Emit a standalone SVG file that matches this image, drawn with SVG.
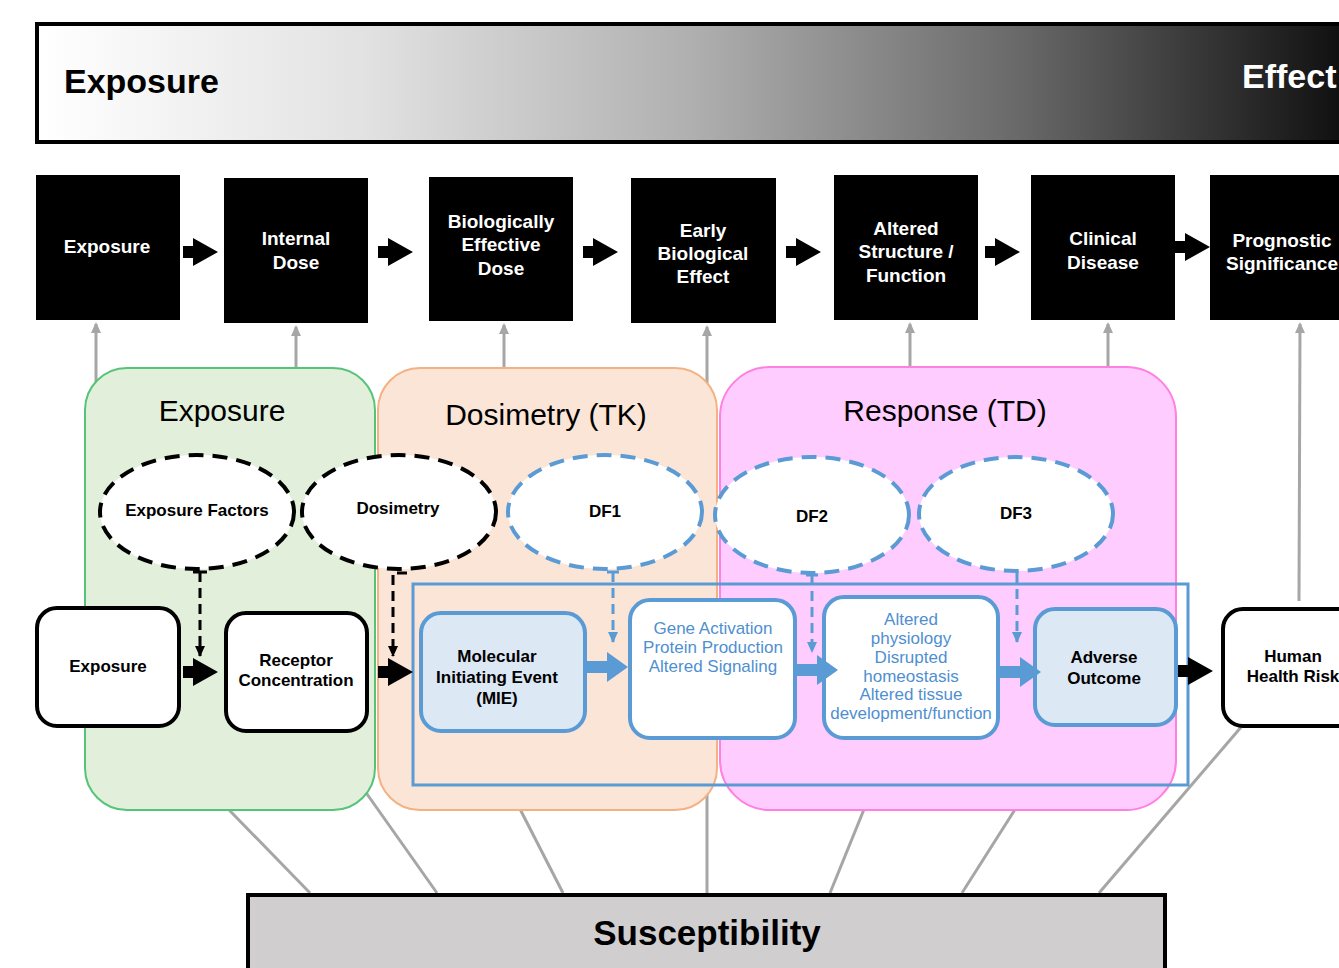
<svg xmlns="http://www.w3.org/2000/svg" width="1339" height="968" viewBox="0 0 1339 968">
<defs>
<linearGradient id="g" gradientUnits="userSpaceOnUse" x1="40" y1="0" x2="1339" y2="0">
<stop offset="0" stop-color="#ffffff"/>
<stop offset="0.25" stop-color="#e2e2e2"/>
<stop offset="0.5" stop-color="#b0b0b0"/>
<stop offset="0.75" stop-color="#6a6a6a"/>
<stop offset="1" stop-color="#111111"/>
</linearGradient>
<path id="ba" d="M0,-6 H10 V-14 L35,0 L10,14 V6 H0 Z"/>
<path id="bb" d="M0,-6 H20 V-15 L41,0 L20,15 V6 H0 Z"/>
<marker id="ak" markerUnits="userSpaceOnUse" markerWidth="12" markerHeight="12" refX="10" refY="6" orient="auto" viewBox="0 0 12 12"><path d="M0,1 L11,6 L0,11 Z" fill="#000"/></marker>
<marker id="abl" markerUnits="userSpaceOnUse" markerWidth="12" markerHeight="12" refX="10" refY="6" orient="auto" viewBox="0 0 12 12"><path d="M0,1 L11,6 L0,11 Z" fill="#5b9bd5"/></marker>
<marker id="ag" markerUnits="userSpaceOnUse" markerWidth="12" markerHeight="12" refX="6" refY="2" viewBox="0 0 12 12"><path d="M1,11 L11,11 L6,0 Z" fill="#a6a6a6"/></marker>
</defs>
<style>
.bx{fill:#000}
.bt{fill:#fff;font-family:"Liberation Sans",Arial,sans-serif;font-weight:bold;font-size:19px;text-anchor:middle}
.nt{fill:#000;font-family:"Liberation Sans",Arial,sans-serif;font-weight:bold;font-size:17px;text-anchor:middle}
.blt{fill:#4f8fd0;font-family:"Liberation Sans",Arial,sans-serif;font-size:17px;text-anchor:middle}
.pt{fill:#000;font-family:"Liberation Sans",Arial,sans-serif;font-size:30px;text-anchor:middle}
.gl{stroke:#a6a6a6;stroke-width:3;fill:none}
.ek{fill:#fff;stroke:#000;stroke-width:4;stroke-dasharray:15 9}
.eb{fill:#fff;stroke:#5b9bd5;stroke-width:4;stroke-dasharray:15 9}
.wn{fill:#fff;stroke:#000;stroke-width:4}
.bn{fill:#fff;stroke:#5b9bd5;stroke-width:4}
.ln{fill:#dde8f5;stroke:#5b9bd5;stroke-width:4}
.dk{stroke:#000;stroke-width:3;stroke-dasharray:10 6;fill:none}
.db{stroke:#5b9bd5;stroke-width:3;stroke-dasharray:10 6;fill:none}
</style>

<g id="banner">
<rect x="37" y="24" width="1340" height="118" fill="url(#g)" stroke="#000" stroke-width="4"/>
<text x="64" y="93" font-family="Liberation Sans,Arial,sans-serif" font-weight="bold" font-size="34" fill="#000">Exposure</text>
<text x="1242" y="88" font-family="Liberation Sans,Arial,sans-serif" font-weight="bold" font-size="34" fill="#fff">Effect</text>
</g>

<g id="connectors-gray">
<line class="gl" x1="96" y1="420" x2="96" y2="324" marker-end="url(#ag)"/>
<line class="gl" x1="296" y1="400" x2="296" y2="327" marker-end="url(#ag)"/>
<line class="gl" x1="504" y1="400" x2="504" y2="325" marker-end="url(#ag)"/>
<line class="gl" x1="707" y1="893" x2="707" y2="327" marker-end="url(#ag)"/>
<line class="gl" x1="910" y1="400" x2="910" y2="324" marker-end="url(#ag)"/>
<line class="gl" x1="1108" y1="400" x2="1108" y2="324" marker-end="url(#ag)"/>
<line class="gl" x1="1299" y1="601" x2="1300" y2="324" marker-end="url(#ag)"/>
<line class="gl" x1="310" y1="893" x2="200" y2="780"/>
<line class="gl" x1="437" y1="893" x2="350" y2="770"/>
<line class="gl" x1="563" y1="893" x2="500" y2="770"/>
<line class="gl" x1="830" y1="893" x2="880" y2="770"/>
<line class="gl" x1="962" y1="893" x2="1040" y2="770"/>
<line class="gl" x1="1099" y1="893" x2="1242" y2="726"/>
</g>

<g id="panels">
<rect x="85" y="368" width="290" height="442" rx="42" fill="#e2efda" stroke="#54c479" stroke-width="2"/>
<rect x="378" y="368" width="339" height="442" rx="42" fill="#fbe5d6" stroke="#f4b183" stroke-width="2"/>
<rect x="720" y="367" width="456" height="443" rx="50" fill="#ffccff" stroke="#ff80e0" stroke-width="2"/>
<text class="pt" x="222" y="421">Exposure</text>
<text class="pt" x="546" y="425">Dosimetry (TK)</text>
<text class="pt" x="945" y="421">Response (TD)</text>
</g>

<g id="top-boxes">
<g id="tb1"><rect class="bx" x="36" y="175" width="144" height="145"/><text class="bt" x="107" y="253">Exposure</text></g>
<g id="tb2"><rect class="bx" x="224" y="178" width="144" height="145"/><text class="bt" x="296" y="245">Internal</text><text class="bt" x="296" y="269">Dose</text></g>
<g id="tb3"><rect class="bx" x="429" y="177" width="144" height="144"/><text class="bt" x="501" y="228">Biologically</text><text class="bt" x="501" y="251">Effective</text><text class="bt" x="501" y="275">Dose</text></g>
<g id="tb4"><rect class="bx" x="631" y="178" width="145" height="145"/><text class="bt" x="703" y="237">Early</text><text class="bt" x="703" y="260">Biological</text><text class="bt" x="703" y="283">Effect</text></g>
<g id="tb5"><rect class="bx" x="834" y="175" width="144" height="145"/><text class="bt" x="906" y="235">Altered</text><text class="bt" x="906" y="258">Structure /</text><text class="bt" x="906" y="282">Function</text></g>
<g id="tb6"><rect class="bx" x="1031" y="175" width="144" height="145"/><text class="bt" x="1103" y="245">Clinical</text><text class="bt" x="1103" y="269">Disease</text></g>
<g id="tb7"><rect class="bx" x="1210" y="175" width="144" height="145"/><text class="bt" x="1282" y="247">Prognostic</text><text class="bt" x="1282" y="270">Significance</text></g>
</g>

<g id="factor-ellipses">
<g id="e1"><ellipse class="ek" cx="197" cy="512" rx="97" ry="57"/><text class="nt" x="197" y="516">Exposure Factors</text></g>
<g id="e2"><ellipse class="ek" cx="399" cy="512" rx="97" ry="57"/><text class="nt" x="398" y="514">Dosimetry</text></g>
<g id="e3"><ellipse class="eb" cx="605" cy="512" rx="97" ry="57"/><text class="nt" x="605" y="517">DF1</text></g>
<g id="e4"><ellipse class="eb" cx="812" cy="515" rx="97" ry="58"/><text class="nt" x="812" y="522">DF2</text></g>
<g id="e5"><ellipse class="eb" cx="1016" cy="514" rx="97" ry="57"/><text class="nt" x="1016" y="519">DF3</text></g>
</g>

<g id="aop-frame">
<rect x="413" y="584" width="775" height="201" fill="none" stroke="#5b9bd5" stroke-width="3"/>
</g>

<g id="nodes">
<g id="n1"><rect class="wn" x="37" y="608" width="142" height="118" rx="20"/><text class="nt" x="108" y="672">Exposure</text></g>
<g id="n2"><rect class="wn" x="226" y="613" width="141" height="118" rx="20"/><text class="nt" x="296" y="666">Receptor</text><text class="nt" x="296" y="686">Concentration</text></g>
<g id="n3"><rect class="ln" x="421" y="613" width="164" height="118" rx="20"/><text class="nt" x="497" y="662">Molecular</text><text class="nt" x="497" y="683">Initiating Event</text><text class="nt" x="497" y="704">(MIE)</text></g>
<g id="n4"><rect class="bn" x="630" y="600" width="165" height="138" rx="20"/><text class="blt" x="713" y="634">Gene Activation</text><text class="blt" x="713" y="653">Protein Production</text><text class="blt" x="713" y="672">Altered Signaling</text></g>
<g id="n5"><rect class="bn" x="824" y="597" width="174" height="141" rx="20"/><text class="blt" x="911" y="625">Altered</text><text class="blt" x="911" y="644">physiology</text><text class="blt" x="911" y="663">Disrupted</text><text class="blt" x="911" y="682">homeostasis</text><text class="blt" x="911" y="700">Altered tissue</text><text class="blt" x="911" y="719">development/function</text></g>
<g id="n6"><rect class="ln" x="1035" y="609" width="141" height="116" rx="20"/><text class="nt" x="1104" y="663">Adverse</text><text class="nt" x="1104" y="684">Outcome</text></g>
<g id="n7"><rect class="wn" x="1223" y="609" width="142" height="117" rx="20"/><text class="nt" x="1293" y="662">Human</text><text class="nt" x="1293" y="682">Health Risk</text></g>
</g>

<g id="connectors">
<use href="#ba" transform="translate(183,252)"/>
<use href="#ba" transform="translate(378,252)"/>
<use href="#ba" transform="translate(583,252)"/>
<use href="#ba" transform="translate(786,252)"/>
<use href="#ba" transform="translate(985,252)"/>
<use href="#ba" transform="translate(1175,247)"/>
<use href="#ba" transform="translate(183,672)"/>
<use href="#ba" transform="translate(378,672)"/>
<use href="#ba" transform="translate(1178,671)"/>
<use href="#bb" transform="translate(587,667)" fill="#5b9bd5"/>
<use href="#bb" transform="translate(797,670)" fill="#5b9bd5"/>
<use href="#bb" transform="translate(1000,672)" fill="#5b9bd5"/>
<path class="dk" d="M200,572 V656" marker-end="url(#ak)"/>
<path d="M193,572 H207" stroke="#000" stroke-width="3"/>
<path class="dk" d="M407,573 H393 V656" marker-end="url(#ak)"/>
<path class="db" d="M613,572 V642" marker-end="url(#abl)"/>
<path d="M607,572 H619" stroke="#5b9bd5" stroke-width="3"/>
<path class="db" d="M812,575 V652" marker-end="url(#abl)"/>
<path d="M806,575 H818" stroke="#5b9bd5" stroke-width="3"/>
<path class="db" d="M1017,573 V642" marker-end="url(#abl)"/>
</g>

<g id="susceptibility">
<rect x="248" y="895" width="917" height="90" fill="#d0cecf" stroke="#000" stroke-width="4"/>
<text x="707" y="945" text-anchor="middle" font-family="Liberation Sans,Arial,sans-serif" font-weight="bold" font-size="35" fill="#000">Susceptibility</text>
</g>
</svg>
